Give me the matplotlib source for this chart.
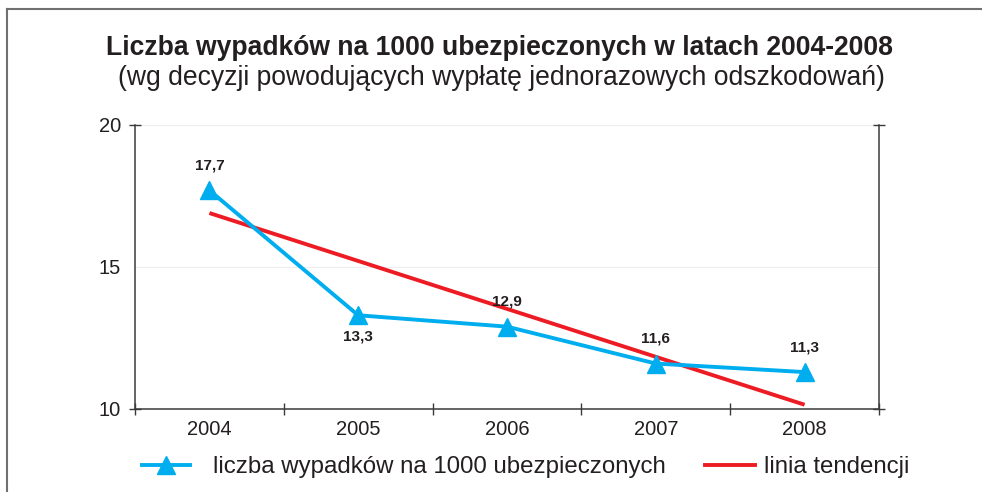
import matplotlib
matplotlib.use("Agg")
import matplotlib.pyplot as plt
from matplotlib.lines import Line2D

plt.rcParams['font.family'] = ['Liberation Sans', 'DejaVu Sans']

years = ['2004', '2005', '2006', '2007', '2008']
values = [17.7, 13.3, 12.9, 11.6, 11.3]
value_labels = ['17,7', '13,3', '12,9', '11,6', '11,3']
label_above = [True, False, True, True, True]
trend_x = [0, 4]
trend_y = [16.9, 10.15]
yticks = [10, 15, 20]

title = 'Liczba wypadków na 1000 ubezpieczonych w latach 2004-2008'
subtitle = '(wg decyzji powodujących wypłatę jednorazowych odszkodowań)'
series_name = 'liczba wypadków na 1000 ubezpieczonych'
trend_name = 'linia tendencji'

BLUE = '#00AEEF'
RED = '#ED1C24'
TXT = '#231F20'
AX = '#3a3a3a'

fig = plt.figure(figsize=(9.82, 4.92), dpi=100)
W, H = 982, 492
ax = fig.add_axes([135 / W, 1 - 409 / H, (879 - 135) / W, (409 - 125) / H])

x = list(range(len(years)))
ax.plot(trend_x, trend_y, color=RED, lw=2.8, solid_capstyle='butt', zorder=3)
ax.plot(x, values, color=BLUE, lw=2.8, marker='^', markersize=13, zorder=4)

for xi, v, lab, above in zip(x, values, value_labels, label_above):
    off = 18 if above else -15
    ax.annotate(lab, (xi, v), xytext=(0, off), textcoords='offset points',
                ha='center', va='center', fontsize=11, fontweight='bold',
                color=TXT)

ax.set_xlim(-0.5, 4.5)
ax.set_ylim(10, 20)
ax.set_yticks(yticks)
ax.set_yticklabels([str(t) for t in yticks])
ax.set_xticks(x)
ax.set_xticklabels(years)
ax.set_xticks([i - 0.5 for i in range(len(years) + 1)], minor=True)
ax.tick_params(axis='x', which='major', length=0, labelsize=14.5, labelcolor=TXT, pad=8)
ax.tick_params(axis='x', which='minor', length=8, direction='inout', color=AX, width=1)
ax.tick_params(axis='y', which='major', length=8, direction='inout', color=AX, width=1,
               labelsize=14.5, labelcolor=TXT, pad=6, right=True)
for i, t in enumerate(ax.yaxis.get_major_ticks()):
    if i == 1:
        t.tick1line.set_visible(False)
        t.tick2line.set_visible(False)

ax.grid(axis='y', color='#eeeeee', lw=0.8, zorder=0)
for s in ['left', 'right', 'bottom']:
    ax.spines[s].set_color(AX)
    ax.spines[s].set_linewidth(1.1)
ax.spines['top'].set_visible(False)

fig.text(500 / W, 1 - 48 / H, title, ha='center', va='center', fontsize=19.1,
         fontweight='bold', color=TXT)
fig.text(501 / W, 1 - 78 / H, subtitle, ha='center', va='center', fontsize=19.1, color=TXT)

# legend (two entries placed separately)
h1 = Line2D([], [], color=BLUE, lw=2.8, marker='^', markersize=13)
h2 = Line2D([], [], color=RED, lw=2.8)
leg1 = fig.legend([h1], [series_name], loc='center left',
                  bbox_to_anchor=(142 / W, 1 - 467 / H), frameon=False,
                  fontsize=17.3, handlelength=2.0, handletextpad=0.95,
                  borderpad=0, borderaxespad=0, labelcolor=TXT)
leg2 = fig.legend([h2], [trend_name], loc='center left',
                  bbox_to_anchor=(705 / W, 1 - 467 / H), frameon=False,
                  fontsize=17.3, handlelength=2.1, handletextpad=0.35,
                  borderpad=0, borderaxespad=0, labelcolor=TXT)

# frame lines
fig.add_artist(Line2D([7 / W, 7 / W], [0, 1 - 9 / H], color='#707070', lw=1.5,
                      transform=fig.transFigure))
fig.add_artist(Line2D([7 / W, 1.0], [1 - 9 / H, 1 - 9 / H], color='#707070', lw=1.5,
                      transform=fig.transFigure))

fig.savefig('out.png', dpi=100)
